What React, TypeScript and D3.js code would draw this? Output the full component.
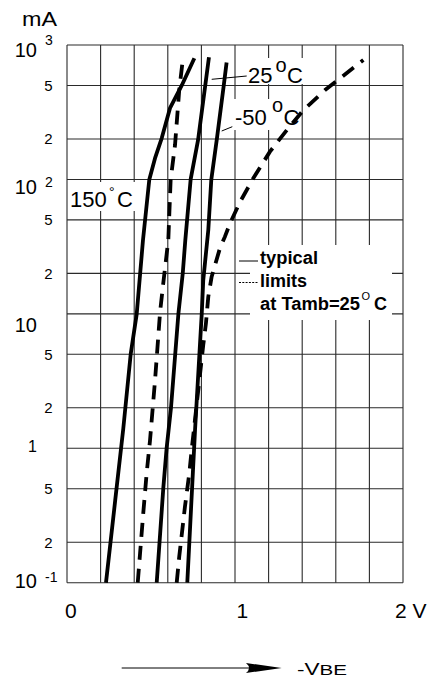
import React from "react";
import * as d3 from "d3";

// Collector current (mA) versus base-emitter voltage (V)
const voltageGrid = [0, 0.2, 0.4, 0.6, 0.8, 1.0, 1.2, 1.4, 1.6, 1.8, 2.0];
const voltageLabels = ["0", "1", "2 V"];
const voltageLabelValues = [0, 1, 2];
const currentGrid = [0.1, 0.2, 0.5, 1, 2, 5, 10, 20, 50, 100, 200, 500, 1000];
const mantissaValues = [0.2, 0.5, 2, 5, 20, 50, 200, 500];
const mantissaLabels = ["2", "5", "2", "5", "2", "5", "2", "5"];
const decadeValues = [0.1, 1, 10, 100, 1000];
const decadeBases = ["10", "1", "10", "10", "10"];
const decadeExponents = ["-1", "", "", "2", "3"];

// typical curves [V, mA]
const typical150: [number, number][] = [
  [0.232, 0.1], [0.287, 0.41], [0.335, 1.4], [0.379, 5], [0.415, 10],
  [0.452, 35], [0.49, 100], [0.524, 144], [0.564, 203], [0.613, 339],
  [0.683, 500], [0.758, 796],
];
const typical25: [number, number][] = [
  [0.534, 0.1], [0.573, 0.5], [0.593, 1], [0.619, 2], [0.663, 10],
  [0.689, 20], [0.704, 35], [0.736, 100], [0.78, 196], [0.845, 810],
];
const typicalMinus50: [number, number][] = [
  [0.716, 0.1], [0.762, 1.36], [0.802, 10], [0.811, 17.8], [0.841, 42],
  [0.859, 100], [0.892, 200], [0.933, 500], [0.95, 740],
];
// limits at Tamb = 25 °C
const limitLow: [number, number][] = [
  [0.421, 0.1], [0.435, 0.166], [0.454, 0.33], [0.474, 0.65], [0.494, 1.14],
  [0.524, 3.2], [0.554, 10.3], [0.573, 16.9], [0.603, 35.4], [0.617, 100],
  [0.643, 180], [0.668, 462], [0.689, 773],
];
const limitHigh: [number, number][] = [
  [0.653, 0.1], [0.668, 0.156], [0.702, 0.367], [0.728, 0.653], [0.742, 0.97],
  [0.811, 5.86], [0.827, 8.5], [0.841, 13.4], [0.861, 18.9], [0.881, 23],
  [0.911, 31], [0.94, 37.5], [0.97, 47], [1.03, 68], [1.109, 102],
  [1.208, 161], [1.317, 240], [1.407, 328], [1.536, 462], [1.764, 773],
];

const FONT = "'Liberation Sans', Arial, Helvetica, sans-serif";

export default function App() {
  const x = d3.scaleLinear().domain([0, 2]).range([67, 403]);
  const y = d3.scaleLog().domain([0.1, 1000]).range([582.7, 45]);
  const line = d3
    .line<[number, number]>()
    .x((d) => x(d[0]))
    .y((d) => y(d[1]));

  const decadeDy = [5.3, 4, 17.7, 15, 11.7];
  const expDy = [-6.3, 0, 0, -7.3, -11.7];

  const gridColor = "#2a2a2a";
  const curveW = 3.8;

  return (
    <svg
      width={435}
      height={680}
      style={{ position: "absolute", left: 0, top: 0, background: "#fff" }}
      fontFamily={FONT}
    >
      <rect width={435} height={680} fill="#fff" />
      {/* grid */}
      <g stroke={gridColor} strokeWidth={1.1}>
        {voltageGrid.map((v) => (
          <line key={"v" + v} x1={x(v)} x2={x(v)} y1={y(1000)} y2={y(0.1)} />
        ))}
        {currentGrid.map((c) => (
          <line key={"c" + c} x1={x(0)} x2={x(2)} y1={y(c)} y2={y(c)} />
        ))}
      </g>

      {/* label backgrounds */}
      <g fill="#fff">
        <rect x={68} y={182} width={72} height={29} />
        <rect x={243} y={58} width={62} height={26} />
        <rect x={234} y={99} width={66} height={31} />
        <rect x={250} y={245} width={142} height={75} />
      </g>

      {/* curves */}
      <g fill="none" stroke="#000" strokeWidth={curveW} strokeLinejoin="round">
        <path d={line(typical150) ?? ""} />
        <path d={line(typical25) ?? ""} />
        <path d={line(typicalMinus50) ?? ""} />
        <path d={line(limitLow) ?? ""} strokeDasharray="14 9" />
        <path d={line(limitHigh) ?? ""} strokeDasharray="14 9" />
      </g>

      {/* y axis labels */}
      <text x={22} y={25.5} fontSize={20} textLength={35} lengthAdjust="spacingAndGlyphs">
        mA
      </text>
      {mantissaValues.map((v, i) => (
        <text key={"m" + v} x={52.5} y={y(v) + 5.5} fontSize={15} textAnchor="end">
          {mantissaLabels[i]}
        </text>
      ))}
      {decadeValues.map((v, i) => (
        <g key={"d" + v}>
          <text
            x={37}
            y={y(v) + decadeDy[i]}
            fontSize={decadeBases[i] === "1" ? 16 : 20}
            textAnchor="end"
          >
            {decadeBases[i]}
          </text>
          {decadeExponents[i] && (
            <text x={45} y={y(v) + decadeDy[i] + expDy[i]} fontSize={14}>
              {decadeExponents[i]}
            </text>
          )}
        </g>
      ))}

      {/* x axis labels */}
      {voltageLabelValues.map((v, i) => (
        <text
          key={"x" + v}
          x={x(v) + (i === 2 ? -8 : i === 0 ? -2 : 1.5)}
          y={618}
          fontSize={21}
        >
          {voltageLabels[i]}
        </text>
      ))}

      {/* curve labels */}
      <g fontSize={22}>
        <text x={70} y={207}>150</text>
        <text x={109} y={197} fontSize={14}>°</text>
        <text x={117} y={207}>C</text>

        <text x={248} y={83}>25</text>
        <text x={275.5} y={71.7} fontSize={20}>o</text>
        <text x={287} y={83}>C</text>

        <text x={235} y={125}>-50</text>
        <text x={272} y={111.7} fontSize={20}>o</text>
        <text x={283.5} y={125}>C</text>
      </g>
      <g stroke="#000" strokeWidth={1}>
        <line x1={211.7} y1={79.3} x2={246.7} y2={76} />
        <line x1={221.7} y1={131} x2={232.3} y2={126.7} />
      </g>

      {/* legend */}
      <line x1={239} x2={258} y1={261} y2={261} stroke="#000" strokeWidth={1} />
      <line x1={239} x2={258} y1={282.5} y2={282.5} stroke="#000" strokeWidth={1} strokeDasharray="2 1.3" />
      <g fontSize={18} fontWeight="bold">
        <text x={260} y={263.5} textLength={58} lengthAdjust="spacingAndGlyphs">typical</text>
        <text x={260} y={286.5} textLength={47} lengthAdjust="spacingAndGlyphs">limits</text>
        <text x={260} y={309.5} textLength={100} lengthAdjust="spacingAndGlyphs">at Tamb=25</text>
        <text x={361.5} y={299.5} fontSize={11} fontWeight="normal">O</text>
        <text x={374} y={309.5}>C</text>
      </g>

      {/* axis quantity */}
      <line x1={121.7} x2={250} y1={668} y2={668} stroke="#000" strokeWidth={1} />
      <path d="M246,663 L281.7,668 L246,673 Q252,668 246,663 Z" fill="#000" />
      <text x={297} y={674.5} textLength={50} lengthAdjust="spacingAndGlyphs">
        <tspan fontSize={17}>-V</tspan>
        <tspan fontSize={15.5}>BE</tspan>
      </text>
    </svg>
  );
}
